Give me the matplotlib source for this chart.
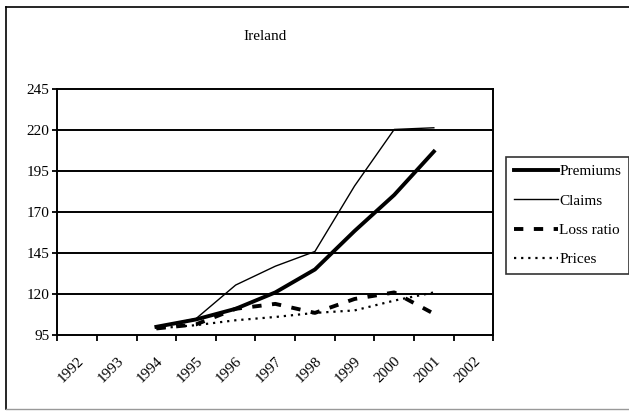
import matplotlib
matplotlib.use("Agg")
import matplotlib.pyplot as plt
from matplotlib.lines import Line2D

plt.rcParams['font.family'] = ['Liberation Serif', 'DejaVu Serif']

# categories on the x axis (1992-2002), data only 1994-2001
years = ['1992', '1993', '1994', '1995', '1996', '1997', '1998', '1999', '2000', '2001', '2002']
data_years = ['1994', '1995', '1996', '1997', '1998', '1999', '2000', '2001']

premiums = [100, 104.5, 111, 121, 135, 158.5, 180.5, 207]
claims = [100, 105, 125.5, 137, 146, 186, 220.5, 221.5]
loss_ratio = [99, 101.5, 111, 114, 108.5, 117, 121, 108]
prices = [99, 101, 104, 106, 108.5, 110, 116, 121]

y_ticks = [95, 120, 145, 170, 195, 220, 245]

fig = plt.figure(figsize=(6.29, 4.11), dpi=100)
ax = fig.add_axes([57.3 / 629, 1 - 335 / 411, (493.3 - 57.3) / 629, (335 - 89.3) / 411])

xpos = [years.index(y) for y in data_years]
ax.plot(xpos, premiums, color='black', lw=2.8, label='Premiums')
ax.plot(xpos, claims, color='black', lw=1.0, label='Claims')
ax.plot(xpos, loss_ratio, color='black', lw=2.8, dashes=(2.4, 2.7), label='Loss ratio')
ax.plot(xpos, prices, color='black', lw=1.6, dashes=(1, 2.2), label='Prices')

ax.set_xlim(-0.5, len(years) - 0.5)
ax.set_ylim(95, 245)
ax.set_yticks(y_ticks)
ax.set_yticklabels([str(v) for v in y_ticks], fontsize=11)
for v in y_ticks[1:-1]:
    ax.axhline(v, color='black', lw=1.4, zorder=0)

ax.set_xticks(range(len(years)))
ax.set_xticklabels(years, fontsize=11, rotation=45, ha='right', rotation_mode='anchor')
ax.set_xticks([i - 0.5 for i in range(len(years) + 1)], minor=True)
ax.tick_params(axis='x', which='major', length=0, pad=14)
ax.tick_params(axis='x', which='minor', length=4, width=1.3, direction='out')
ax.tick_params(axis='y', length=3.5, width=1.3, direction='out', pad=2)
for s in ax.spines.values():
    s.set_linewidth(1.4)

leg = fig.legend(loc='upper left', bbox_to_anchor=(506 / 629, 1 - 157 / 411), fontsize=11,
                 frameon=True, fancybox=False, edgecolor='black', handlelength=2.9,
                 handletextpad=0.1, labelspacing=1.02, borderpad=0.5, borderaxespad=0)
leg.get_frame().set_linewidth(1.2)

fig.text(265 / 629, 1 - 36 / 411, 'Ireland', ha='center', va='center', fontsize=11)

# outer chart frame
fig.add_artist(Line2D([6 / 629, 6 / 629], [1 - 7 / 411, 1 - 409 / 411], color='black', lw=1.2))
fig.add_artist(Line2D([6 / 629, 1], [1 - 7 / 411, 1 - 7 / 411], color='black', lw=1.2))
fig.add_artist(Line2D([6 / 629, 1], [1 - 409 / 411, 1 - 409 / 411], color='#999999', lw=1.0))

fig.savefig('out.png', dpi=100)
